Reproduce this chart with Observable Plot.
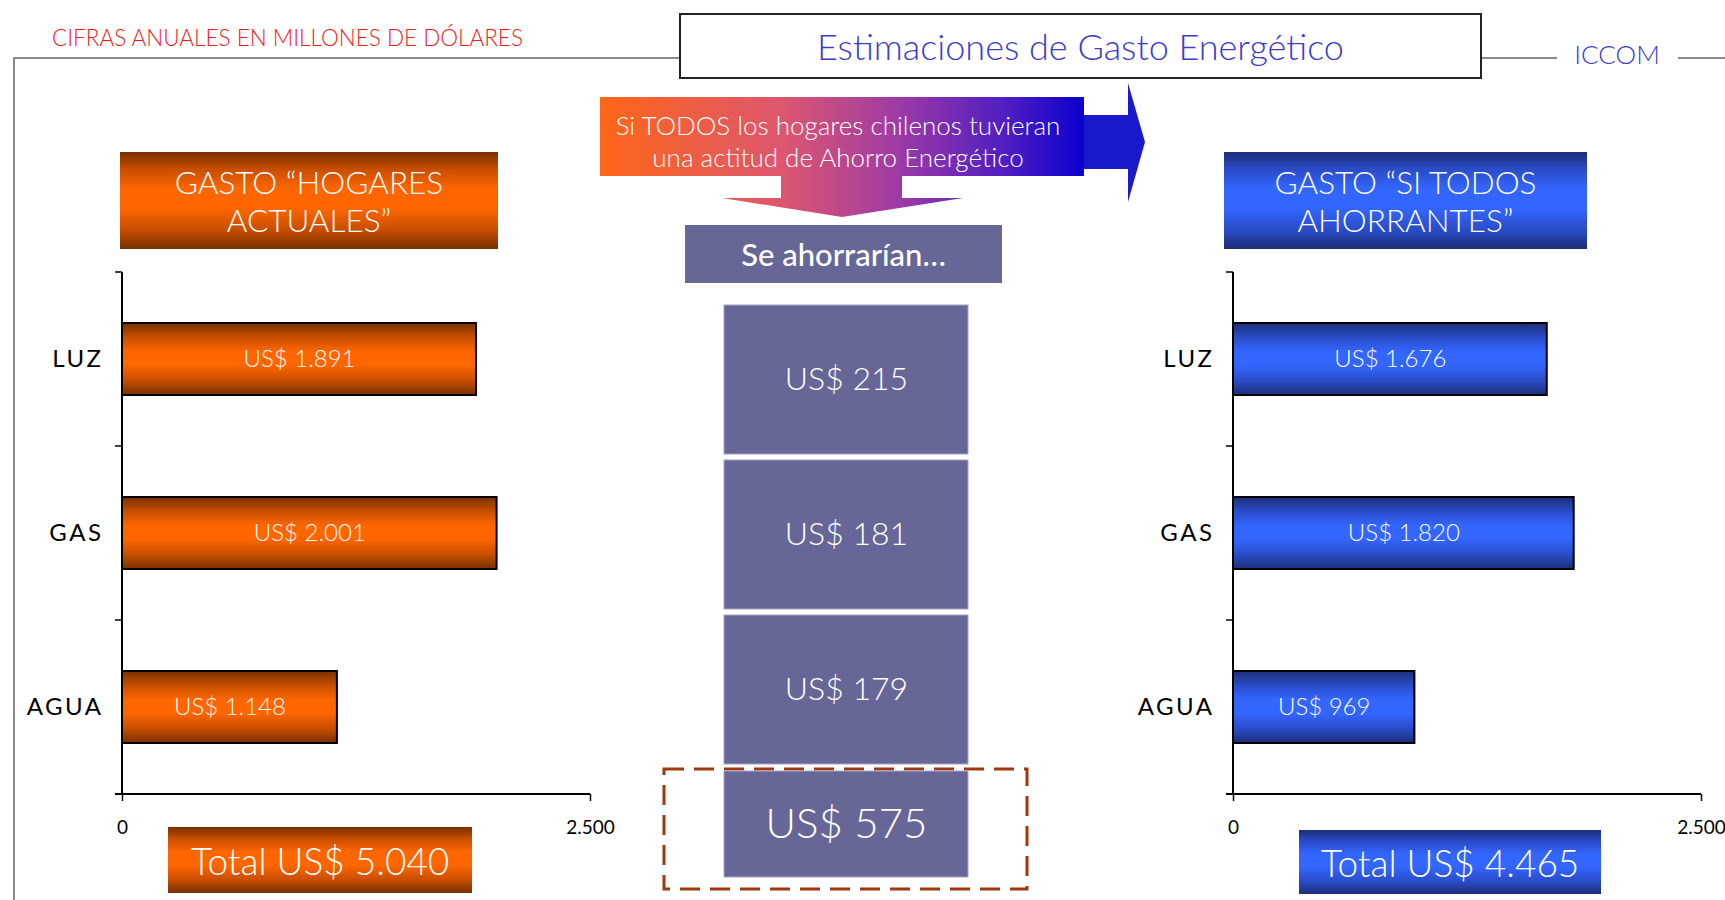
<!DOCTYPE html>
<html>
<head>
<meta charset="utf-8">
<script src="https://cdn.jsdelivr.net/npm/d3@7"></script>
<script src="https://cdn.jsdelivr.net/npm/@observablehq/plot@0.6"></script>
<style>
  body { margin: 0; background: #fff; }
  #page { position: relative; width: 1725px; height: 900px; overflow: hidden; background: #fff;
          font-family: Lato, "Open Sans", "DejaVu Sans", sans-serif; }
  .box { position: absolute; display: flex; align-items: center; justify-content: center;
         text-align: center; box-sizing: border-box; white-space: nowrap; font-weight: 300; }
  .plot { position: absolute; }
  .plot [aria-label="y-axis tick label"] text { letter-spacing: 2.5px; }
  .orange { background: linear-gradient(to bottom, #783000 0%, #c84e00 18%, #ff6600 38%, #ff6600 58%, #c84e00 80%, #783000 100%); }
  .blue { background: linear-gradient(to bottom, #1c2e78 0%, #2a4cc8 18%, #3366ff 38%, #3366ff 58%, #2a4cc8 80%, #1c2e78 100%); }
</style>
</head>
<body>
<div id="page">
  <svg id="deco" width="1725" height="900" style="position:absolute;left:0;top:0">
    <defs>
      <linearGradient id="gArrow" gradientUnits="userSpaceOnUse" x1="600" y1="0" x2="1084" y2="0">
        <stop offset="0" stop-color="#ff6616"/>
        <stop offset="0.38" stop-color="#dc5670"/>
        <stop offset="0.62" stop-color="#9c3aa6"/>
        <stop offset="0.85" stop-color="#4a1cc4"/>
        <stop offset="1" stop-color="#0a00cc"/>
      </linearGradient>
      <linearGradient id="gOr" x1="0" y1="0" x2="0" y2="1">
        <stop offset="0" stop-color="#783000"/>
        <stop offset="0.2" stop-color="#c84e00"/>
        <stop offset="0.4" stop-color="#ff6600"/>
        <stop offset="0.58" stop-color="#ff6600"/>
        <stop offset="0.8" stop-color="#c84e00"/>
        <stop offset="1" stop-color="#783000"/>
      </linearGradient>
      <linearGradient id="gBl" x1="0" y1="0" x2="0" y2="1">
        <stop offset="0" stop-color="#1c2e78"/>
        <stop offset="0.2" stop-color="#2a4cc8"/>
        <stop offset="0.4" stop-color="#3366ff"/>
        <stop offset="0.58" stop-color="#3366ff"/>
        <stop offset="0.8" stop-color="#2a4cc8"/>
        <stop offset="1" stop-color="#1c2e78"/>
      </linearGradient>
    </defs>
    <g stroke="#8a8a8a" stroke-width="2" fill="none">
      <line x1="14" y1="58" x2="679" y2="58"/>
      <line x1="14" y1="57" x2="14" y2="900"/>
      <line x1="1482" y1="58" x2="1557" y2="58"/>
      <line x1="1678" y1="58" x2="1725" y2="58"/>
    </g>
    <rect x="600" y="97" width="484" height="79" fill="url(#gArrow)"/>
    <polygon points="781,175 902,175 902,198 963,198 842,217 722,198 781,198" fill="url(#gArrow)"/>
    <polygon points="1084,115 1128,115 1128,83 1145,142 1128,202 1128,169 1084,169" fill="#1a1acc"/>
    <rect x="664" y="769" width="363" height="120" fill="none" stroke="#a0380c" stroke-width="3" stroke-dasharray="20 10"/>
  </svg>
</div>
<script>
// ---------- data ----------
const categorias = ["LUZ", "GAS", "AGUA"];
const gastoActual = [1891, 2001, 1148];
const gastoAhorrante = [1676, 1820, 969];
const ahorro = [215, 181, 179];
const xTicks = [0, 2500];
const totalActual = 5040;
const totalAhorrante = 4465;
const ahorroTotal = 575;

const loc = d3.formatLocale({decimal: ",", thousands: ".", grouping: [3], currency: ["US$ ", ""]});
const fmt = loc.format(",");
const usd = v => "US$ " + fmt(v);

const page = document.getElementById("page");

function addBox(html, css, cls) {
  const d = document.createElement("div");
  d.className = "box " + (cls || "");
  d.innerHTML = html;
  Object.assign(d.style, css);
  page.appendChild(d);
  return d;
}

// ---------- band ticks / axis lines ----------
function axisLines(cats, xMax) {
  return (index, scales, values, dimensions) => {
    const {marginTop, marginBottom, height} = dimensions;
    const y = scales.y, x = scales.x;
    let bounds;
    if (y && typeof y.bandwidth === "function") {
      bounds = cats.map(c => y(c)).concat([y(cats[cats.length - 1]) + y.bandwidth()]);
    } else {
      const h = (height - marginTop - marginBottom) / cats.length;
      bounds = d3.range(cats.length + 1).map(i => marginTop + i * h);
    }
    const x0 = x(0), x1 = x(xMax);
    const g = d3.create("svg:g").attr("stroke", "black").attr("fill", "none");
    g.append("line").attr("x1", x0).attr("x2", x0).attr("y1", bounds[0]).attr("y2", bounds[bounds.length - 1]).attr("stroke-width", 2);
    g.append("line").attr("x1", x0 - 7).attr("x2", x1).attr("y1", bounds[bounds.length - 1]).attr("y2", bounds[bounds.length - 1]).attr("stroke-width", 2);
    g.selectAll("line.t").data(bounds.slice(0, -1)).join("line").attr("class", "t")
      .attr("x1", x0 - 7).attr("x2", x0).attr("y1", d => d).attr("y2", d => d).attr("stroke-width", 1.5);
    return g.node();
  };
}

function barChart(values, grad, left, width, marginLeft, marginRight) {
  const data = categorias.map((c, i) => ({cat: c, valor: values[i]}));
  const svg = Plot.plot({
    width, height: 584,
    marginLeft, marginRight, marginTop: 22, marginBottom: 40,
    style: {background: "transparent", overflow: "visible", fontFamily: "Lato, 'Open Sans', sans-serif", color: "black"},
    x: {domain: [0, xTicks[xTicks.length - 1]], label: null},
    y: {domain: categorias, padding: 0, label: null},
    marks: [
      Plot.barX(data, {x: "valor", y: "cat", insetTop: 51, insetBottom: 51, fill: grad, stroke: "black", strokeWidth: 2}),
      Plot.text(data, {x: d => d.valor / 2, y: "cat", text: d => usd(d.valor), fill: "white", fontSize: 24, fontWeight: 300}),
      axisLines(categorias, xTicks[xTicks.length - 1]),
      Plot.axisX({ticks: xTicks, tickFormat: fmt, tickSize: 7, tickPadding: 19, fontSize: 19, fontWeight: 400, strokeWidth: 1.5, label: null}),
      Plot.axisY({tickSize: 0, tickPadding: 19, fontSize: 24, fontWeight: 400, label: null})
    ]
  });
  svg.classList.add("plot");
  svg.style.left = left + "px";
  svg.style.top = "250px";
  page.appendChild(svg);
}

barChart(gastoActual, "url(#gOr)", 0, 620, 122, 30);
barChart(gastoAhorrante, "url(#gBl)", 1000, 725, 233, 24);

// ---------- center savings cells ----------
const ahorroData = categorias.map((c, i) => ({cat: c, valor: ahorro[i]}));
const center = Plot.plot({
  width: 244, height: 461, margin: 0,
  style: {background: "transparent", overflow: "visible", fontFamily: "Lato, 'Open Sans', sans-serif"},
  y: {domain: categorias, paddingInner: 0.04, paddingOuter: 0, axis: null},
  marks: [
    Plot.cell(ahorroData, {y: "cat", fill: "#676797", stroke: "#a4a4c8", strokeWidth: 1}),
    Plot.text(ahorroData, {y: "cat", text: d => usd(d.valor), fill: "white", fontSize: 32, fontWeight: 300})
  ]
});
center.classList.add("plot");
center.style.left = "724px"; center.style.top = "304px";
page.appendChild(center);

const totalData = [{cat: "TOTAL", valor: ahorroTotal}];
const centerTotal = Plot.plot({
  width: 244, height: 106, margin: 0,
  style: {background: "transparent", overflow: "visible", fontFamily: "Lato, 'Open Sans', sans-serif"},
  y: {domain: ["TOTAL"], padding: 0, axis: null},
  marks: [
    Plot.cell(totalData, {y: "cat", fill: "#676797", stroke: "#a4a4c8", strokeWidth: 1}),
    Plot.text(totalData, {y: "cat", text: d => usd(d.valor), fill: "white", fontSize: 42, fontWeight: 300})
  ]
});
centerTotal.classList.add("plot");
centerTotal.style.left = "724px"; centerTotal.style.top = "771px";
page.appendChild(centerTotal);

// ---------- texts & boxes ----------
addBox("CIFRAS ANUALES EN MILLONES DE DÓLARES", {left: "52px", top: "23px", height: "28px", color: "#f01c1c", fontSize: "22.5px", justifyContent: "flex-start"});
addBox("Estimaciones de Gasto Energético", {left: "679px", top: "13px", width: "803px", height: "66px", border: "2px solid #222", background: "#fff", color: "#3b3bd0", fontSize: "36px"});
addBox("ICCOM", {left: "1566px", top: "39px", width: "102px", height: "30px", color: "#3b3bd0", fontSize: "26px"});
addBox("Si TODOS los hogares chilenos tuvieran<br>una actitud de Ahorro Energético", {left: "600px", top: "101px", width: "476px", height: "79px", color: "#fff", fontSize: "26px", lineHeight: "32px"});
addBox("Se ahorrarían…", {left: "685px", top: "225px", width: "317px", height: "58px", background: "#676797", color: "#fff", fontSize: "31px", fontWeight: "500"});
addBox("GASTO “HOGARES<br>ACTUALES”", {left: "120px", top: "152px", width: "378px", height: "97px", color: "#fff", fontSize: "31.5px", lineHeight: "38px"}, "orange");
addBox("GASTO “SI TODOS<br>AHORRANTES”", {left: "1224px", top: "152px", width: "363px", height: "97px", color: "#fff", fontSize: "31.5px", lineHeight: "38px"}, "blue");
addBox("Total " + usd(totalActual), {left: "168px", top: "827px", width: "304px", height: "66px", color: "#fff", fontSize: "37px"}, "orange");
addBox("Total " + usd(totalAhorrante), {left: "1299px", top: "830px", width: "302px", height: "64px", color: "#fff", fontSize: "37px"}, "blue");
</script>
</body>
</html>
